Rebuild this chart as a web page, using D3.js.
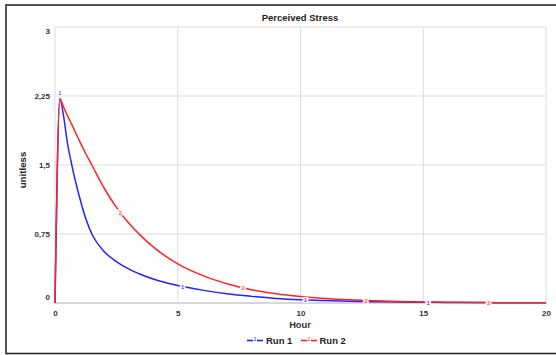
<!DOCTYPE html>
<html>
<head>
<meta charset="utf-8">
<script src="https://cdn.jsdelivr.net/npm/d3@7"></script>
<style>
  html, body { margin: 0; padding: 0; background: #fff; }
  svg { display: block; }
  text { font-family: "Liberation Sans", Arial, sans-serif; }
</style>
</head>
<body>
<svg id="chart" width="556" height="355"></svg>
<script>
// Perceived Stress over time, two simulation runs
const hours = [0, 0.2, 0.35, 0.5, 0.7, 1, 1.25, 1.5, 2, 2.5, 3, 3.5, 4, 5, 6, 7, 8, 9, 10, 11, 12, 13, 14, 15, 16, 17, 18, 19, 20];
const run1 = [0, 2.22, 2.03, 1.75, 1.48, 1.15, 0.92, 0.75, 0.56, 0.45, 0.37, 0.31, 0.26, 0.19, 0.14, 0.10, 0.072, 0.05, 0.036, 0.027, 0.019, 0.014, 0.010, 0.008, 0.006, 0.005, 0.004, 0.003, 0.002];
const run2 = [0, 2.22, 2.13, 2.04, 1.93, 1.76, 1.625, 1.50, 1.25, 1.04, 0.87, 0.73, 0.61, 0.425, 0.30, 0.21, 0.145, 0.10, 0.07, 0.049, 0.034, 0.024, 0.017, 0.012, 0.008, 0.006, 0.004, 0.003, 0.002];
const seriesNames = ["Run 1", "Run 2"];
const seriesMarks = ["1", "2"];
const seriesColors = ["#2323ff", "#ff2323"];
const markerHours = [[0.2, 5.2, 10.2, 15.2], [2.66, 7.66, 12.66, 17.66]];
const xTicks = [0, 5, 10, 15, 20];
const yTicks = [0, 0.75, 1.5, 2.25, 3];
const yTickLabels = ["0", "0,75", "1,5", "2,25", "3"];
const chartTitle = "Perceived Stress";
const xTitle = "Hour";
const yTitle = "unitless";

const svg = d3.select("#chart");
const plot = { left: 55, right: 546, top: 27, bottom: 303 };

// outer frame
svg.append("rect")
  .attr("x", 6).attr("y", 5).attr("width", 556).attr("height", 348.5)
  .attr("fill", "none").attr("stroke", "#2a2a2a").attr("stroke-width", 1.6);

const x = d3.scaleLinear().domain([0, 20]).range([plot.left, plot.right]);
const y = d3.scaleLinear().domain([0, 3]).range([plot.bottom, plot.top]);

// grid
const grid = svg.append("g");
grid.selectAll("line.gx").data(xTicks).join("line")
  .attr("x1", d => x(d)).attr("x2", d => x(d))
  .attr("y1", plot.top).attr("y2", plot.bottom)
  .attr("stroke", "#dcdcdc").attr("stroke-width", 1);
grid.selectAll("line.gy").data(yTicks).join("line")
  .attr("y1", d => y(d)).attr("y2", d => y(d))
  .attr("x1", plot.left).attr("x2", plot.right)
  .attr("stroke", "#dcdcdc").attr("stroke-width", 1);
svg.append("line")
  .attr("x1", plot.left).attr("x2", plot.right)
  .attr("y1", plot.bottom).attr("y2", plot.bottom)
  .attr("stroke", "#cfcfcf").attr("stroke-width", 1.5);

// axes (labels only, the frame is drawn by the grid)
const xAxis = d3.axisBottom(x).tickValues(xTicks).tickSize(0).tickPadding(0).tickFormat(d3.format("d"));
const gx = svg.append("g").attr("transform", `translate(0,${plot.bottom})`).call(xAxis);
gx.select(".domain").remove();
gx.selectAll("text")
  .attr("dy", null).attr("y", 13)
  .attr("font-size", "8px").attr("font-weight", "bold").attr("fill", "#333");

const yAxis = d3.axisLeft(y).tickValues(yTicks).tickSize(0).tickPadding(0)
  .tickFormat((d, i) => yTickLabels[i]);
const gy = svg.append("g").attr("transform", `translate(${plot.left - 5},0)`).call(yAxis);
gy.select(".domain").remove();
gy.selectAll("text")
  .attr("dy", d => d === 3 ? "0.75em" : d === 0 ? "-0.4em" : "0.32em")
  .attr("font-size", "8px").attr("font-weight", "bold").attr("fill", "#333");

// titles
svg.append("text").attr("x", 300).attr("y", 20.5).attr("text-anchor", "middle")
  .attr("font-size", "9.5px").attr("font-weight", "bold").attr("fill", "#222").text(chartTitle);
svg.append("text").attr("x", 300).attr("y", 327.5).attr("text-anchor", "middle")
  .attr("font-size", "9.3px").attr("font-weight", "bold").attr("fill", "#333").text(xTitle);
svg.append("text").attr("transform", "translate(26,170) rotate(-90)").attr("text-anchor", "middle")
  .attr("font-size", "9.7px").attr("font-weight", "bold").attr("fill", "#222").text(yTitle);

// series lines
const seriesData = [run1, run2].map(vals => hours.map((h, i) => ({ h, v: vals[i] })));
const line = d3.line().x(d => x(d.h)).y(d => y(d.v)).curve(d3.curveMonotoneX);
[0, 1].forEach(k => {
  svg.append("path").datum(seriesData[k])
    .attr("d", line).attr("fill", "none")
    .attr("stroke", seriesColors[k]).attr("stroke-width", 1.5)
    .attr("stroke-linejoin", "round");
});

// on-line run markers
function valueAt(vals, h) {
  const i = d3.bisectRight(hours, h) - 1;
  if (i >= hours.length - 1) return vals[vals.length - 1];
  const t = (h - hours[i]) / (hours[i + 1] - hours[i]);
  return vals[i] + t * (vals[i + 1] - vals[i]);
}
[run1, run2].forEach((vals, k) => {
  const g = svg.append("g");
  markerHours[k].forEach(h => {
    const px = x(h), py = y(valueAt(vals, h)) - (h < 0.5 ? 6 : 0);
    g.append("rect").attr("x", px - 3).attr("y", py - 3).attr("width", 6).attr("height", 6)
      .attr("fill", "#fff").attr("opacity", 0.85);
    g.append("text").attr("x", px).attr("y", py + 2.2).attr("text-anchor", "middle")
      .attr("font-size", "6px").attr("fill", seriesColors[k]).text(seriesMarks[k]);
  });
});

// legend
const legendItems = [{ x: 247, tx: 266 }, { x: 301, tx: 319.5 }];
legendItems.forEach((it, k) => {
  const g = svg.append("g").attr("transform", `translate(0,340.5)`);
  g.append("line").attr("x1", it.x).attr("x2", it.x + 6).attr("y1", 0).attr("y2", 0)
    .attr("stroke", seriesColors[k]).attr("stroke-width", 1.6);
  g.append("line").attr("x1", it.x + 10).attr("x2", it.x + 16).attr("y1", 0).attr("y2", 0)
    .attr("stroke", seriesColors[k]).attr("stroke-width", 1.6);
  g.append("text").attr("x", it.x + 8).attr("y", 0.5).attr("text-anchor", "middle")
    .attr("font-size", "6px").attr("fill", seriesColors[k]).text(seriesMarks[k]);
  g.append("text").attr("x", it.tx).attr("y", 3.5)
    .attr("font-size", "9.5px").attr("font-weight", "bold").attr("fill", "#222").text(seriesNames[k]);
});
</script>
</body>
</html>
